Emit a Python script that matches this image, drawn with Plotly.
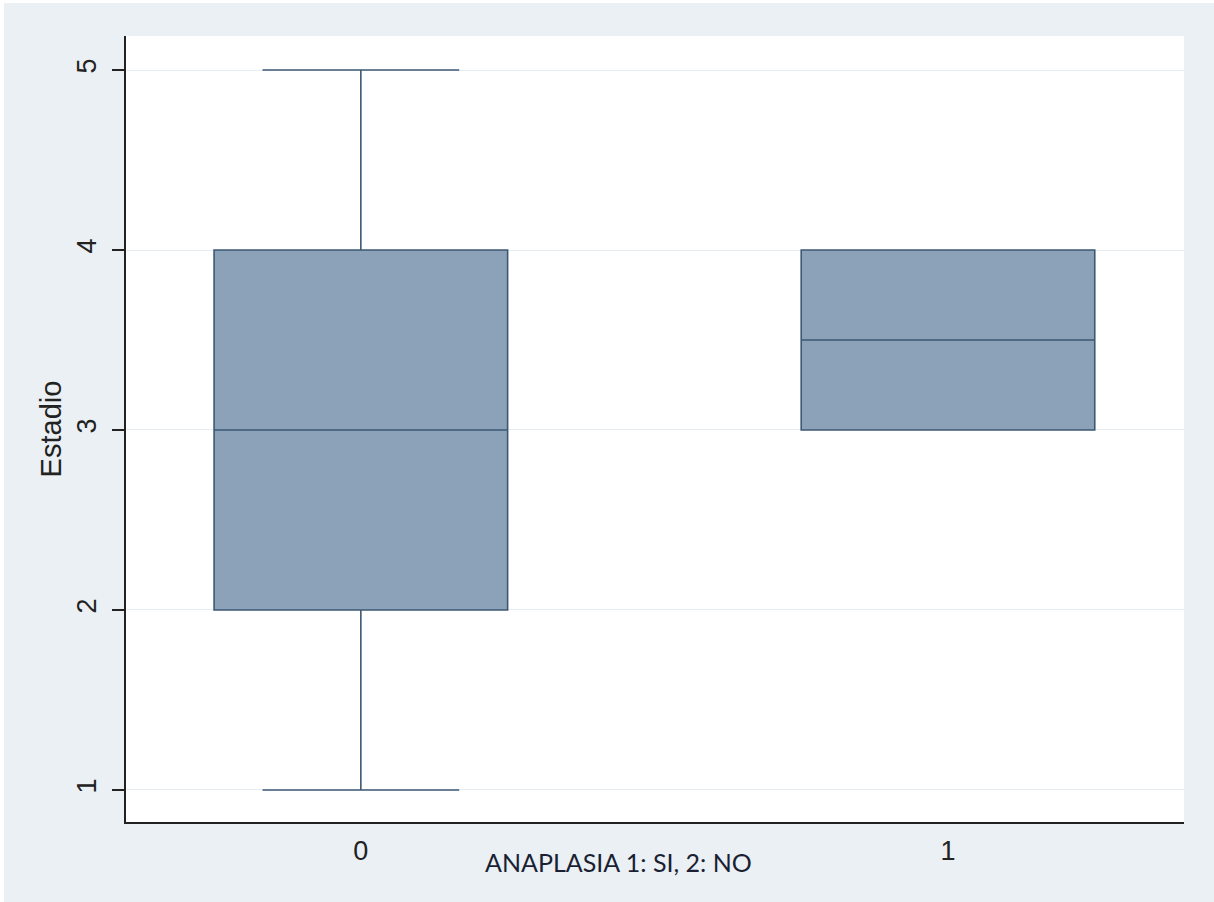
import plotly.graph_objects as go

# Box summaries per anaplasia group
groups = [0, 1]
lower_fence = [1, 3]
q1 = [2, 3]
median = [3, 3.5]
q3 = [4, 4]
upper_fence = [5, 4]

y_ticks = [1, 2, 3, 4, 5]
x_ticks = [0, 1]

fill_col = "#8ca2b8"
line_col = "#3c5874"
frame_bg = "#eaf0f3"

fig = go.Figure()
fig.add_trace(go.Box(
    x=groups,
    q1=q1, median=median, q3=q3,
    lowerfence=lower_fence, upperfence=upper_fence,
    width=0.5,
    whiskerwidth=0.67,
    fillcolor=fill_col,
    line=dict(color=line_col, width=1.6),
    boxpoints=False,
    hoverinfo="skip",
    showlegend=False,
))

L, T, W, H = 126, 36, 1058, 786
fig.update_layout(
    width=1214, height=902,
    margin=dict(l=L, r=1214 - L - W, t=T, b=902 - T - H, pad=0),
    paper_bgcolor=frame_bg,
    plot_bgcolor="white",
    font=dict(family="Liberation Sans, Arial, sans-serif", color="#222222"),
    xaxis=dict(
        range=[-0.4, 1.402],
        tickvals=x_ticks,
        ticktext=[str(v) for v in x_ticks],
        ticks="outside", ticklen=4, tickcolor="rgba(0,0,0,0)",
        showgrid=False, zeroline=False,
        showline=True, linecolor="#222222", linewidth=2,
        tickfont=dict(size=27),
    ),
    yaxis=dict(
        range=[0.822, 5.189],
        tickvals=y_ticks,
        ticks="outside", ticklen=12, tickwidth=1.5, tickcolor="#222222",
        tickangle=-90,
        ticklabelstandoff=5,
        showgrid=True, gridcolor="#e6ecf0", gridwidth=1,
        zeroline=False,
        showline=True, linecolor="#222222", linewidth=2,
        tickfont=dict(size=27),
        title=dict(text="Estadio", font=dict(size=29), standoff=2),
    ),
    annotations=[dict(
        text="ANAPLASIA 1: SI, 2: NO",
        xref="paper", yref="paper",
        x=(618 - L) / W, y=-(862 - (T + H)) / H,
        xanchor="center", yanchor="middle",
        showarrow=False,
        font=dict(family="Lato, Open Sans, sans-serif", size=25, color="#1a1f33"),
    )],
    shapes=[
        dict(type="rect", xref="paper", yref="paper",
             x0=-L / W, x1=(4 - L) / W, y0=-(902 - T - H) / H, y1=(T) / H + 1,
             fillcolor="white", line=dict(width=0), layer="below"),
        dict(type="rect", xref="paper", yref="paper",
             x0=-L / W, x1=(1214 - L) / W, y0=1 + (T - 3) / H, y1=1 + T / H,
             fillcolor="white", line=dict(width=0), layer="below"),
    ],
)

fig.write_html("out.html")
